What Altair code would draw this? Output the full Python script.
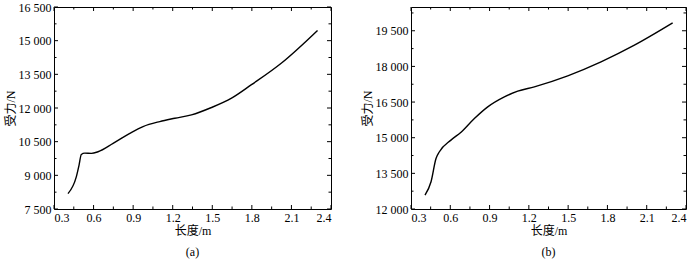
import altair as alt
import pandas as pd

# ---- data ----
len_a = [0.406, 0.469, 0.490, 0.507, 0.533, 0.583, 0.634, 0.748, 0.875, 0.975, 1.102,
         1.216, 1.342, 1.494, 1.646, 1.797, 2.025, 2.298]
force_a = [8185, 8933, 9457, 9931, 9990, 9980, 10052, 10424, 10871, 11172, 11396,
           11543, 11694, 12022, 12439, 13039, 14006, 15457]

len_b = [0.407, 0.453, 0.491, 0.517, 0.605, 0.682, 0.784, 0.886, 1.013, 1.115,
         1.242, 1.497, 1.751, 2.006, 2.298]
force_b = [12588, 13147, 14126, 14408, 14899, 15230, 15807, 16298, 16718, 16958,
           17139, 17601, 18189, 18891, 19828]

x_ticks = [0.3, 0.6, 0.9, 1.2, 1.5, 1.8, 2.1, 2.4]
x_minor = [0.45, 0.75, 1.05, 1.35, 1.65, 1.95, 2.25]
y_ticks_a = [7500, 9000, 10500, 12000, 13500, 15000, 16500]
y_minor_a = [8250, 9750, 11250, 12750, 14250, 15750]
y_ticks_b = [12000, 13500, 15000, 16500, 18000, 19500]
y_minor_b = [12750, 14250, 15750, 17250, 18750, 20250]

x_domain = [0.3, 2.4]
y_domain_a = [7500, 16500]
y_domain_b = [12000, 20500]

x_title = "长度/m"
y_title = "受力/N"

FONT = "Liberation Serif, Noto Sans CJK SC"
MAJOR = 4
MINOR = 2.5


def panel(xs, ys, yt, ym, ydom, caption, W, H):
    df = pd.DataFrame({"x": xs, "y": ys})
    xs_ = alt.Scale(domain=x_domain, nice=False, zero=False)
    ys_ = alt.Scale(domain=ydom, nice=False, zero=False)
    common = dict(ticks=False, domain=False, grid=False, labelFont=FONT, titleFont=FONT,
                  labelFontSize=12, titleFontSize=12, labelColor="black",
                  titleColor="black", titleFontWeight="normal")
    x_ax = alt.Axis(values=x_ticks, format=".1f", labelPadding=3, titlePadding=2, **common)
    y_ax = alt.Axis(values=yt, labelPadding=3, titlePadding=1,
                    labelExpr="replace(format(datum.value, ','), ',', ' ')", **common)

    def X():
        return alt.X("x:Q", scale=xs_, title=x_title, axis=x_ax)

    def Y():
        return alt.Y("y:Q", scale=ys_, title=y_title, axis=y_ax)

    line = alt.Chart(df).mark_line(color="black", strokeWidth=1.4, interpolate="monotone").encode(
        x=X(), y=Y())
    layers = [line]
    for vals, size in [(x_ticks, MAJOR), (x_minor, MINOR)]:
        base = alt.Chart(pd.DataFrame({"x": vals})).mark_rule(color="black", strokeWidth=1)
        layers.append(base.encode(x=X(), y=alt.value(H), y2=alt.value(H - size)))
        layers.append(base.encode(x=X(), y=alt.value(0), y2=alt.value(size)))
    for vals, size in [(yt, MAJOR), (ym, MINOR)]:
        base = alt.Chart(pd.DataFrame({"y": vals})).mark_rule(color="black", strokeWidth=1)
        layers.append(base.encode(y=Y(), x=alt.value(0), x2=alt.value(size)))
        layers.append(base.encode(y=Y(), x=alt.value(W), x2=alt.value(W - size)))
    return alt.layer(*layers).properties(
        width=W, height=H,
        title=alt.TitleParams(caption, orient="bottom", font=FONT, fontSize=12,
                              fontWeight="normal", color="black", offset=11),
    )


a = panel(len_a, force_a, y_ticks_a, y_minor_a, y_domain_a, "(a)", 277, 202)
b = panel(len_b, force_b, y_ticks_b, y_minor_b, y_domain_b, "(b)", 275, 202)

chart = alt.hconcat(a, b, spacing=28).properties(
    padding={"left": 3, "top": 0, "right": 5, "bottom": 0},
    background="white",
).configure_view(stroke="black", strokeWidth=1)

chart.save("out.html", embed_options={"renderer": "svg", "actions": False})
